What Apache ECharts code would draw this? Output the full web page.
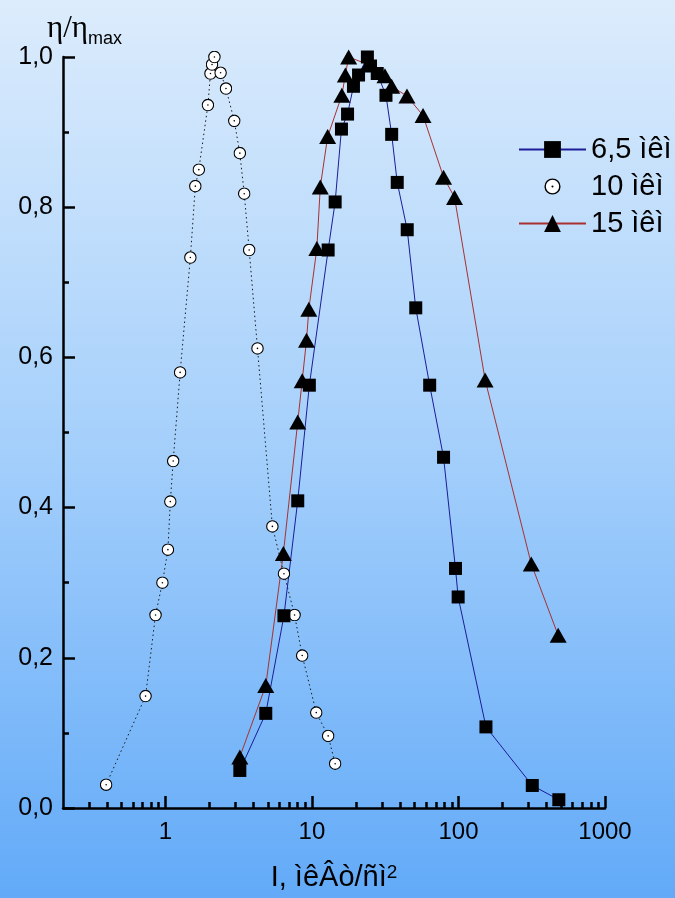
<!DOCTYPE html>
<html>
<head>
<meta charset="utf-8">
<script src="https://cdn.jsdelivr.net/npm/echarts@6/dist/echarts.min.js"></script>
<style>html,body{margin:0;padding:0;}#chart{width:675px;height:898px;}</style>
</head>
<body>
<div id="chart"></div>
<script>
// ---- data ----
const seriesNames = ['6,5 ìêì', '10 ìêì', '15 ìêì'];
const x65 = [3.22,4.84,6.44,8.0,9.6,12.9,14.4,15.9,17.5,19.2,20.8,23.9,25.1,27.9,32.0,35.0,38.2,44.7,51.1,63.6,79.1,95.4,99.5,154,319,484];
const y65 = [0.050,0.126,0.256,0.409,0.563,0.743,0.807,0.904,0.924,0.961,0.976,1.0,0.988,0.978,0.949,0.897,0.833,0.770,0.666,0.563,0.467,0.319,0.281,0.108,0.030,0.011];
const x10 = [0.394,0.732,0.856,0.954,1.04,1.08,1.13,1.26,1.48,1.60,1.69,1.95,2.03,2.08,2.16,2.38,2.59,2.95,3.22,3.45,3.73,4.25,5.37,6.44,7.61,8.58,10.7,12.9,14.4];
const y10 = [0.031,0.149,0.257,0.300,0.344,0.408,0.462,0.580,0.733,0.828,0.850,0.936,0.978,0.990,1.0,0.979,0.958,0.915,0.872,0.818,0.743,0.612,0.375,0.312,0.257,0.203,0.127,0.096,0.059];
const x15 = [3.22,4.84,6.38,8.0,8.58,9.18,9.52,10.8,11.4,12.8,16.0,16.9,17.8,24.2,31.5,35.0,44.5,57.3,79.1,94.0,152,314,479];
const y15 = [0.068,0.163,0.339,0.514,0.569,0.623,0.664,0.745,0.827,0.894,0.949,0.976,1.0,0.99,0.975,0.961,0.948,0.922,0.840,0.813,0.570,0.325,0.230];
const xMajorTicks = [1, 10, 100, 1000];
const xMinorTicks = [0.3,0.4,0.5,0.6,0.7,0.8,0.9, 2,3,4,5,6,7,8,9, 20,30,40,50,60,70,80,90, 200,300,400,500,600,700,800,900];
const xAxisTitle = 'I, ìêÂò/ñì';
const xAxisTitleSup = '2';
const yAxisTitle = 'η/η';
const yAxisTitleSub = 'max';

const FONT = 'Liberation Sans, Arial, sans-serif';
const SERIF = 'Liberation Serif, Times New Roman, serif';
const pairs = (xs, ys) => xs.map((x, i) => [x, ys[i]]);

const circleSvg = "<svg xmlns='http://www.w3.org/2000/svg' width='26' height='26' viewBox='0 0 26 26'>" +
  "<circle cx='13' cy='13' r='11.4' fill='white' stroke='black' stroke-width='2.2'/>" +
  "<circle cx='13' cy='13' r='1.6' fill='black'/></svg>";
const circleSymbol = 'image://data:image/svg+xml;charset=utf-8,' + encodeURIComponent(circleSvg);

const chart = echarts.init(document.getElementById('chart'), null, {renderer: 'canvas'});
const gridPos = {left: 63, right: 70, top: 57, bottom: 90, containLabel: false, outerBoundsMode: 'none'};

chart.setOption({
  animation: false,
  backgroundColor: {
    type: 'linear', x: 0, y: 0, x2: 0, y2: 1,
    colorStops: [{offset: 0, color: '#dcecfc'}, {offset: 0.5, color: '#a4cffb'}, {offset: 1, color: '#62aaf8'}]
  },
  textStyle: {fontFamily: FONT, color: '#000'},
  grid: [Object.assign({}, gridPos), Object.assign({}, gridPos)],
  xAxis: [{
    type: 'log', logBase: 10, min: 0.2, max: 1000, gridIndex: 0, position: 'bottom',
    axisLine: {show: true, lineStyle: {color: '#000', width: 2.5}},
    axisTick: {show: true, inside: true, length: 12, lineStyle: {color: '#000', width: 2.5}, customValues: xMajorTicks},
    axisLabel: {show: true, customValues: xMajorTicks, formatter: v => String(v), fontSize: 24, color: '#000', fontFamily: FONT, margin: 12},
    splitLine: {show: false}, minorTick: {show: false},
    name: '{a|' + xAxisTitle + '}{s|' + xAxisTitleSup + '}',
    nameLocation: 'middle', nameGap: 55,
    nameTextStyle: {rich: {a: {fontSize: 29, fontFamily: FONT, color: '#000'}, s: {fontSize: 19, fontFamily: FONT, color: '#000', verticalAlign: 'top'}}}
  }, {
    type: 'log', logBase: 10, min: 0.2, max: 1000, gridIndex: 1, position: 'bottom',
    axisLine: {show: false},
    axisTick: {show: true, inside: true, length: 6, lineStyle: {color: '#000', width: 2.5}, customValues: xMinorTicks},
    axisLabel: {show: false}, splitLine: {show: false}
  }],
  yAxis: [{
    type: 'value', min: 0, max: 1, interval: 0.2, gridIndex: 0,
    axisLine: {show: true, lineStyle: {color: '#000', width: 2.5}},
    axisTick: {show: true, inside: true, length: 12, lineStyle: {color: '#000', width: 2.5}},
    minorTick: {show: true, splitNumber: 2, length: 6, lineStyle: {color: '#000', width: 2.5}},
    axisLabel: {formatter: v => v.toFixed(1).replace('.', ','), fontSize: 25, color: '#000', fontFamily: FONT, margin: 10},
    splitLine: {show: false}
  }, {
    type: 'value', min: 0, max: 1, gridIndex: 1, show: false
  }],
  legend: {
    orient: 'vertical', left: 513, top: 130, itemWidth: 67, itemHeight: 21, itemGap: 8,
    textStyle: {fontSize: 29, color: '#000', fontFamily: FONT},
    data: [
      {name: seriesNames[0]},
      {name: seriesNames[1], lineStyle: {opacity: 0, width: 0}},
      {name: seriesNames[2]}
    ]
  },
  graphic: [
    {type: 'text', left: 47, top: 13, style: {text: yAxisTitle, fontSize: 31, fontFamily: SERIF, fill: '#000'}},
    {type: 'text', left: 88, top: 30, style: {text: yAxisTitleSub, fontSize: 18, fontFamily: FONT, fill: '#000'}}
  ],
  series: [{
    name: seriesNames[1], type: 'line', xAxisIndex: 0, yAxisIndex: 0,
    data: pairs(x10, y10),
    symbol: circleSymbol, symbolSize: 13,
    lineStyle: {color: '#1a1a1a', width: 1, type: [1.5, 3]},
    itemStyle: {color: '#ffffff'}
  }, {
    name: seriesNames[2], type: 'line', xAxisIndex: 0, yAxisIndex: 0,
    data: pairs(x15, y15),
    symbol: 'triangle', symbolSize: [17, 15],
    lineStyle: {color: '#a83030', width: 1},
    itemStyle: {color: '#000000'}
  }, {
    name: seriesNames[0], type: 'line', xAxisIndex: 0, yAxisIndex: 0,
    data: pairs(x65, y65),
    symbol: 'rect', symbolSize: 13,
    lineStyle: {color: '#1c1c98', width: 1},
    itemStyle: {color: '#000000'}
  }]
});
</script>
</body>
</html>
